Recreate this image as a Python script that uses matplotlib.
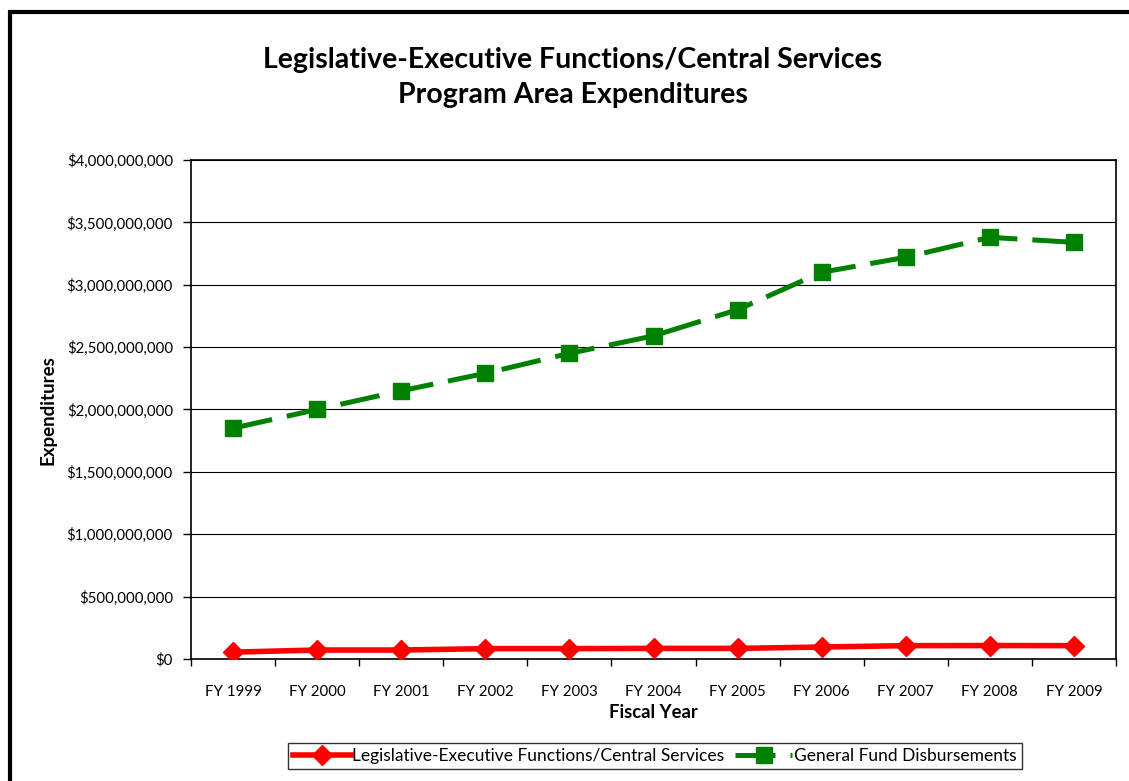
import matplotlib
matplotlib.use("Agg")
import matplotlib.pyplot as plt
from matplotlib.patches import Rectangle
from matplotlib.ticker import FuncFormatter, MultipleLocator, FixedLocator

# values
years = ['FY 1999', 'FY 2000', 'FY 2001', 'FY 2002', 'FY 2003', 'FY 2004',
         'FY 2005', 'FY 2006', 'FY 2007', 'FY 2008', 'FY 2009']
leg_exec = [55e6, 72e6, 72e6, 83e6, 83e6, 85e6, 85e6, 96e6, 107e6, 108e6, 107e6]
general_fund = [1.85e9, 2.00e9, 2.15e9, 2.29e9, 2.45e9, 2.59e9,
                2.80e9, 3.10e9, 3.22e9, 3.38e9, 3.34e9]

plt.rcParams['font.family'] = ['Lato', 'DejaVu Sans']

W, H = 1129, 781
fig = plt.figure(figsize=(W / 100, H / 100), dpi=100)
ax = fig.add_axes([191 / W, 1 - 659 / H, 925 / W, 499 / H])

x = list(range(len(years)))
ax.plot(x, leg_exec, color='#ff0000', lw=4, marker='D', ms=10,
        label='Legislative-Executive Functions/Central Services', zorder=4)
ax.plot(x, general_fund, color='#008000', lw=3.6, marker='s', ms=12,
        dashes=(8, 3), label='General Fund Disbursements', zorder=4)

ax.set_xlim(-0.5, len(years) - 0.5)
ax.set_ylim(0, 4e9)
ax.yaxis.set_major_locator(MultipleLocator(5e8))
ax.yaxis.set_major_formatter(FuncFormatter(lambda v, p: '${:,.0f}'.format(v)))
ax.set_xticks(x)
ax.set_xticklabels(years)
ax.xaxis.set_minor_locator(FixedLocator([i - 0.5 for i in range(len(years) + 1)]))
ax.tick_params(axis='x', which='major', length=0, pad=19, labelsize=10.8)
ax.tick_params(axis='x', which='minor', length=5, width=1, direction='out')
ax.tick_params(axis='y', length=6, width=1, direction='out', pad=7, labelsize=10.8)

ax.grid(axis='y', color='black', lw=0.8)
ax.set_axisbelow(True)
for s in ax.spines.values():
    s.set_linewidth(1.2)
    s.set_color('black')

fig.text(48 / W, 1 - 410 / H, 'Expenditures', rotation=90, ha='center', va='center',
         fontsize=13.5, fontweight='bold')
fig.text(653 / W, 1 - 713 / H, 'Fiscal Year', ha='center', va='center',
         fontsize=13.3, fontweight='bold')
fig.text(573 / W, 1 - 60 / H, 'Legislative-Executive Functions/Central Services',
         ha='center', va='center', fontsize=20.5, fontweight='bold')
fig.text(573 / W, 1 - 95 / H, 'Program Area Expenditures',
         ha='center', va='center', fontsize=20.5, fontweight='bold')

leg = fig.legend(loc='center', bbox_to_anchor=(655 / W, 1 - 756 / H), ncol=2,
                 fontsize=12.5, frameon=True, fancybox=False, edgecolor='black',
                 borderpad=0.3, handlelength=3.3, handletextpad=0.1,
                 columnspacing=0.6)
leg.get_frame().set_linewidth(1)

# thick outer border, only top and left edges visible in the crop
fig.patches.append(Rectangle((10 / W, -0.1), 1.2, 1 - 12 / H + 0.1,
                             transform=fig.transFigure, fill=False,
                             edgecolor='black', lw=3))

fig.savefig('out.png', dpi=100)
